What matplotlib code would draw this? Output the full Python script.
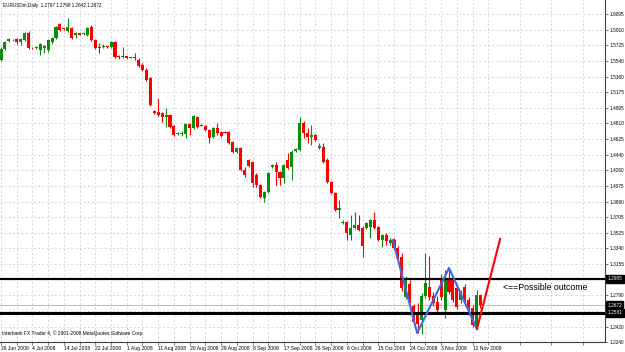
import matplotlib
matplotlib.use('Agg')
import matplotlib.pyplot as plt
import numpy as np

plt.rcParams['font.family'] = ['Liberation Sans', 'DejaVu Sans']

# EURUSDm daily candles, 26 Jun 2008 .. 14 Nov 2008
opens = [
    1.5554, 1.5684, 1.5778, 1.5784, 1.5801, 1.5766, 1.5789, 1.5872, 1.5701, 1.5695,
    1.5672, 1.5695, 1.5672, 1.5766, 1.5813, 1.5977, 1.5930, 1.5895, 1.5930, 1.5848,
    1.5872, 1.5860, 1.5848, 1.5942, 1.5789, 1.5701, 1.5707, 1.5713, 1.5707, 1.5766,
    1.5601, 1.5590, 1.5596, 1.5590, 1.5590, 1.5554, 1.5496, 1.5437, 1.5343, 1.4955,
    1.4943, 1.4931, 1.4884, 1.4908, 1.4779, 1.4685, 1.4685, 1.4685, 1.4802, 1.4755,
    1.4884, 1.4790, 1.4779, 1.4732, 1.4649, 1.4755, 1.4708, 1.4708, 1.4708, 1.4591,
    1.4473, 1.4520, 1.4262, 1.4379, 1.4356, 1.4203, 1.4085, 1.3932, 1.4003, 1.4297,
    1.4320, 1.4238, 1.4168, 1.4379, 1.4297, 1.4485, 1.4497, 1.4814, 1.4696, 1.4649,
    1.4673, 1.4520, 1.4532, 1.4379, 1.4121, 1.3991, 1.3791, 1.3639, 1.3650, 1.3498,
    1.3580, 1.3615, 1.3580, 1.3580, 1.3592, 1.3674, 1.3592, 1.3439, 1.3498, 1.3404,
    1.3439, 1.3345, 1.3239, 1.2769, 1.2921, 1.2663, 1.2593, 1.2499, 1.2781, 1.2886,
    1.2781, 1.2710, 1.2992, 1.2616, 1.2992, 1.2969, 1.2875, 1.2734, 1.2886, 1.2734,
    1.2640, 1.2405, 1.2797]
highs = [
    1.5707, 1.5778, 1.5813, 1.5801, 1.5813, 1.5813, 1.5883, 1.5895, 1.5707, 1.5719,
    1.5754, 1.5731, 1.5801, 1.5825, 1.5954, 1.5989, 1.5936, 1.6048, 1.5942, 1.5883,
    1.5872, 1.5883, 1.5942, 1.5966, 1.5801, 1.5754, 1.5742, 1.5719, 1.5778, 1.5778,
    1.5613, 1.5707, 1.5601, 1.5590, 1.5637, 1.5578, 1.5519, 1.5460, 1.5355, 1.4967,
    1.5108, 1.4943, 1.4990, 1.4920, 1.4790, 1.4708, 1.4720, 1.4814, 1.4814, 1.4908,
    1.4896, 1.4802, 1.4790, 1.4743, 1.4767, 1.4814, 1.4720, 1.4720, 1.4720, 1.4602,
    1.4532, 1.4532, 1.4297, 1.4391, 1.4367, 1.4226, 1.4097, 1.4015, 1.4238, 1.4332,
    1.4356, 1.4250, 1.4332, 1.4461, 1.4497, 1.4520, 1.4884, 1.4838, 1.4755, 1.4790,
    1.4685, 1.4579, 1.4579, 1.4403, 1.4132, 1.4003, 1.3909, 1.3674, 1.3662, 1.3733,
    1.3768, 1.3733, 1.3603, 1.3650, 1.3686, 1.3768, 1.3603, 1.3509, 1.3521, 1.3462,
    1.3462, 1.3368, 1.3286, 1.3016, 1.2969, 1.2687, 1.2698, 1.2816, 1.3286, 1.3251,
    1.2828, 1.2781, 1.3039, 1.3086, 1.3110, 1.3004, 1.2921, 1.2851, 1.2921, 1.2769,
    1.2675, 1.2851, 1.2798]
lows = [
    1.5543, 1.5672, 1.5766, 1.5778, 1.5742, 1.5731, 1.5778, 1.5684, 1.5684, 1.5684,
    1.5613, 1.5637, 1.5648, 1.5742, 1.5801, 1.5895, 1.5907, 1.5883, 1.5801, 1.5813,
    1.5848, 1.5848, 1.5836, 1.5778, 1.5684, 1.5637, 1.5695, 1.5695, 1.5695, 1.5578,
    1.5566, 1.5578, 1.5566, 1.5572, 1.5554, 1.5472, 1.5425, 1.5308, 1.5014, 1.4920,
    1.4896, 1.4826, 1.4767, 1.4755, 1.4661, 1.4673, 1.4661, 1.4638, 1.4673, 1.4743,
    1.4755, 1.4779, 1.4720, 1.4579, 1.4638, 1.4673, 1.4649, 1.4696, 1.4567, 1.4461,
    1.4461, 1.4250, 1.4180, 1.4297, 1.4062, 1.4062, 1.3932, 1.3885, 1.3991, 1.4285,
    1.4085, 1.4085, 1.4109, 1.4273, 1.4144, 1.4473, 1.4485, 1.4638, 1.4579, 1.4555,
    1.4602, 1.4508, 1.4344, 1.4109, 1.3980, 1.3780, 1.3697, 1.3627, 1.3439, 1.3439,
    1.3568, 1.3545, 1.3239, 1.3568, 1.3462, 1.3568, 1.3427, 1.3357, 1.3380, 1.3380,
    1.3321, 1.3180, 1.2839, 1.2745, 1.2698, 1.2440, 1.2346, 1.2334, 1.2757, 1.2734,
    1.2663, 1.2569, 1.2734, 1.2522, 1.2804, 1.2710, 1.2628, 1.2698, 1.2675, 1.2593,
    1.2416, 1.2393, 1.2642]
closes = [
    1.5684, 1.5766, 1.5801, 1.5795, 1.5766, 1.5801, 1.5872, 1.5695, 1.5690, 1.5707,
    1.5742, 1.5719, 1.5789, 1.5813, 1.5942, 1.5907, 1.5919, 1.5942, 1.5813, 1.5872,
    1.5854, 1.5872, 1.5930, 1.5789, 1.5695, 1.5698, 1.5719, 1.5707, 1.5766, 1.5590,
    1.5590, 1.5601, 1.5578, 1.5578, 1.5578, 1.5484, 1.5437, 1.5319, 1.5025, 1.4931,
    1.4908, 1.4884, 1.4908, 1.4767, 1.4673, 1.4696, 1.4696, 1.4802, 1.4755, 1.4896,
    1.4767, 1.4782, 1.4732, 1.4638, 1.4755, 1.4696, 1.4661, 1.4700, 1.4579, 1.4473,
    1.4520, 1.4262, 1.4203, 1.4309, 1.4109, 1.4085, 1.3944, 1.4003, 1.4226, 1.4320,
    1.4238, 1.4168, 1.4320, 1.4285, 1.4473, 1.4508, 1.4814, 1.4696, 1.4649, 1.4673,
    1.4614, 1.4544, 1.4356, 1.4121, 1.3991, 1.3791, 1.3815, 1.3650, 1.3521, 1.3580,
    1.3615, 1.3556, 1.3368, 1.3639, 1.3674, 1.3580, 1.3439, 1.3498, 1.3427, 1.3439,
    1.3345, 1.3227, 1.2875, 1.2980, 1.2734, 1.2475, 1.2452, 1.2781, 1.2933, 1.2769,
    1.2698, 1.2616, 1.2769, 1.2969, 1.2828, 1.2734, 1.2651, 1.2816, 1.2710, 1.2640,
    1.2440, 1.2792, 1.2672]

date_labels = ['26 Jun 2008', '4 Jul 2008', '14 Jul 2008', '22 Jul 2008', '1 Aug 2008',
               '11 Aug 2008', '20 Aug 2008', '29 Aug 2008', '8 Sep 2008', '17 Sep 2008',
               '26 Sep 2008', '6 Oct 2008', '15 Oct 2008', '24 Oct 2008', '3 Nov 2008',
               '12 Nov 2008']
price_labels = ['1.6095', '1.5910', '1.5725', '1.5540', '1.5360', '1.5175', '1.4995',
                '1.4810', '1.4625', '1.4440', '1.4260', '1.4075', '1.3890', '1.3705',
                '1.3525', '1.3340', '1.3155', '1.2975', '1.2790', '1.2605', '1.2420',
                '1.2240']
# these two sit under the black price boxes
hidden_labels = ['1.2975', '1.2605']

# hand drawn pattern (bar index, price) and the projected move
pattern_bars = [99.7, 105.9, 114.0, 121.1]
pattern_prices = [1.3439, 1.2346, 1.3110, 1.2393]
outcome_bars = [121.1, 127.0]
outcome_prices = [1.2393, 1.3451]

# horizontal levels: resistance, bid, support
level_resist = 1.2985
level_bid = 1.2672
level_support = 1.2581

bull = '#0c8c0c'
bear = '#ff0000'

fig = plt.figure(figsize=(6.25, 3.52), dpi=100)
ax = fig.add_axes([0, 10 / 352, 605 / 625, 342 / 352])

o = np.array(opens)
h = np.array(highs)
l = np.array(lows)
c = np.array(closes)
x = np.arange(len(o))
colors = np.where(c >= o, bull, bear)

ax.vlines(x, l, h, colors=colors, lw=0.8, zorder=3)
ax.bar(x, np.maximum(np.abs(c - o), 0.0008), bottom=np.minimum(o, c),
       width=0.78, color=colors, lw=0, zorder=4)

ax.axhline(level_bid, color='#c0c0c0', lw=0.7, zorder=2)
ax.axhline(level_resist, color='black', lw=1.6, zorder=5)
ax.axhline(level_support, color='black', lw=2.2, zorder=5)

ax.plot(pattern_bars, pattern_prices, color='#4169e1', lw=1.5, zorder=6)
ax.plot(outcome_bars, outcome_prices, color='#ff0000', lw=1.5, zorder=6)
ax.text(127.7, 1.2875, '<==Possible outcome', fontsize=6.3, va='center', ha='left')

ax.set_xlim(-0.254, 153.69)
ax.set_ylim(1.2240, 1.62595)

ax.set_xticks(np.arange(len(date_labels)) * 8)
ax.set_xticklabels(date_labels, fontsize=3.6, ha='left')
ax.set_xticks(np.arange(4, 154, 8), minor=True)
ax.set_yticks([float(p) for p in price_labels])
ax.set_yticklabels(['' if p in hidden_labels else p for p in price_labels], fontsize=3.4)
ax.yaxis.tick_right()
ax.tick_params(axis='both', which='both', length=2, width=0.5, color='#404040', pad=1)

ax.grid(True, which='both', color='#c4c8d6', linestyle=(0, (3, 3)), lw=0.5, zorder=0)
ax.set_axisbelow(True)

for side in ['left', 'top']:
    ax.spines[side].set_visible(False)
for side in ['right', 'bottom']:
    ax.spines[side].set_color('#404040')
    ax.spines[side].set_linewidth(0.8)

# price boxes on the right axis
for lvl in [level_resist, level_bid, level_support]:
    ax.text(1.004, lvl, f'{lvl:.4f}', transform=ax.get_yaxis_transform(), fontsize=3.4,
            color='white', va='center', ha='left', clip_on=False, zorder=10,
            bbox=dict(boxstyle='square,pad=0.3', fc='black', ec='black'))

ax.text(0.005, 0.985, 'EURUSDm,Daily  1.2797 1.2798 1.2642 1.2672', transform=ax.transAxes,
        fontsize=3.3, va='center', ha='left')
ax.text(0.003, 0.026, 'Interbank FX Trader 4, \u00a9 2001-2008 MetaQuotes Software Corp.',
        transform=ax.transAxes, fontsize=3.5, va='center', ha='left')

fig.savefig('out.png', dpi=100)
